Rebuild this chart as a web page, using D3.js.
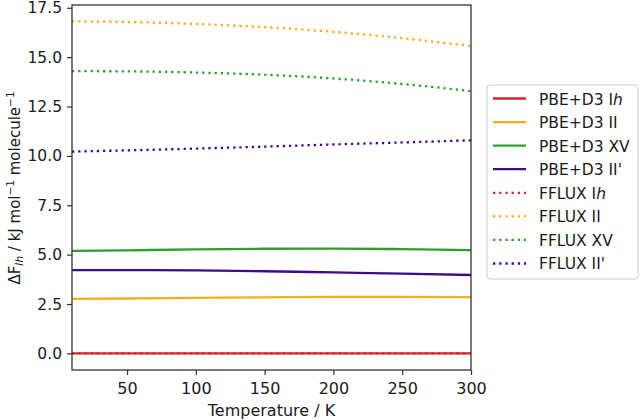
<!DOCTYPE html>
<html>
<head>
<meta charset="utf-8">
<script src="https://cdn.jsdelivr.net/npm/d3@7"></script>
<style>
  body { margin: 0; background: #fff; }
  svg { font-family: "DejaVu Sans", sans-serif; }
</style>
</head>
<body>
<svg width="640" height="420"></svg>
<script>
// temperatures (K)
const temps = [10, 50, 100, 150, 200, 250, 300];

// free energy differences relative to Ih, kJ/mol/molecule
const pbeIh = [0, 0, 0, 0, 0, 0, 0];
const pbeII = [2.76, 2.78, 2.81, 2.84, 2.86, 2.86, 2.85];
const pbeXV = [5.19, 5.22, 5.27, 5.30, 5.31, 5.28, 5.23];
const pbeIIp = [4.22, 4.22, 4.20, 4.16, 4.10, 4.04, 3.97];
const ffluxIh = [0, 0, 0, 0, 0, 0, 0];
const ffluxII = [16.81, 16.78, 16.68, 16.52, 16.28, 15.96, 15.56];
const ffluxXV = [14.29, 14.28, 14.22, 14.11, 13.92, 13.64, 13.28];
const ffluxIIp = [10.22, 10.28, 10.37, 10.47, 10.58, 10.68, 10.79];

const xTicks = [50, 100, 150, 200, 250, 300];
const yTicks = [0, 2.5, 5, 7.5, 10, 12.5, 15, 17.5];

const red = "#d62728", gold = "#f2b01e", green = "#2ca02c", purple = "#3f0a8c";

const series = [
  { name: "PBE+D3 I", it: "h", vals: pbeIh, color: red, dotted: false },
  { name: "PBE+D3 II", it: "", vals: pbeII, color: gold, dotted: false },
  { name: "PBE+D3 XV", it: "", vals: pbeXV, color: green, dotted: false },
  { name: "PBE+D3 II'", it: "", vals: pbeIIp, color: purple, dotted: false },
  { name: "FFLUX I", it: "h", vals: ffluxIh, color: red, dotted: true },
  { name: "FFLUX II", it: "", vals: ffluxII, color: gold, dotted: true },
  { name: "FFLUX XV", it: "", vals: ffluxXV, color: green, dotted: true },
  { name: "FFLUX II'", it: "", vals: ffluxIIp, color: purple, dotted: true }
];

const svg = d3.select("svg");
const mL = 72, mR = 471, mT = 5, mB = 370;
const fs = 16, ink = "#1a1a1a";

const x = d3.scaleLinear().domain([10, 300]).range([mL, mR]);
const y = d3.scaleLinear().domain([-0.84, 17.64]).range([mB, mT]);

const line = d3.line()
  .x((d, i) => x(temps[i]))
  .y(d => y(d))
  .curve(d3.curveMonotoneX);

svg.append("defs").append("clipPath").attr("id", "clip")
  .append("rect").attr("x", mL).attr("y", mT)
  .attr("width", mR - mL).attr("height", mB - mT);

svg.append("g").attr("clip-path", "url(#clip)")
  .selectAll("path")
  .data(series)
  .join("path")
  .attr("d", d => line(d.vals))
  .attr("fill", "none")
  .attr("stroke", d => d.color)
  .attr("stroke-width", 2.3)
  .attr("stroke-dasharray", d => d.dotted ? "2.3,3.9" : null);

// axes
const xAxis = svg.append("g")
  .attr("transform", `translate(0,${mB})`)
  .call(d3.axisBottom(x).tickValues(xTicks).tickSize(5).tickPadding(7.5).tickFormat(d3.format("d")));
const yAxis = svg.append("g")
  .attr("transform", `translate(${mL},0)`)
  .call(d3.axisLeft(y).tickValues(yTicks).tickSize(5).tickPadding(5).tickFormat(d3.format(".1f")));

[xAxis, yAxis].forEach(a => {
  a.select(".domain").remove();
  a.selectAll("line").attr("stroke", "#333").attr("stroke-width", 1.2);
  a.selectAll("text").attr("font-size", fs).attr("fill", ink)
    .attr("font-family", "DejaVu Sans");
});
yAxis.selectAll("text").attr("font-size", 15.5);

// frame
svg.append("rect")
  .attr("x", mL).attr("y", mT)
  .attr("width", mR - mL).attr("height", mB - mT)
  .attr("fill", "none").attr("stroke", "#333").attr("stroke-width", 1.3);

// axis labels
svg.append("text")
  .attr("x", (mL + mR) / 2).attr("y", 416)
  .attr("text-anchor", "middle").attr("font-size", fs).attr("fill", ink)
  .text("Temperature / K");

const yl = svg.append("text")
  .attr("transform", `translate(19.5,188) rotate(-90)`)
  .attr("text-anchor", "middle").attr("font-size", 15).attr("fill", ink);
yl.append("tspan").text("ΔF");
yl.append("tspan").attr("font-size", 10.5).attr("font-style", "italic").attr("dy", 3).text("Ih");
yl.append("tspan").attr("dy", -3).text(" / kJ mol");
yl.append("tspan").attr("font-size", 10.5).attr("dy", -6).text("−1");
yl.append("tspan").attr("dy", 6).text(" molecule");
yl.append("tspan").attr("font-size", 10.5).attr("dy", -6).text("−1");

// legend
const lg = svg.append("g");
lg.append("rect")
  .attr("x", 487).attr("y", 85).attr("width", 151).attr("height", 194)
  .attr("rx", 3).attr("fill", "#fff").attr("stroke", "#ccc").attr("stroke-width", 1);

const item = lg.selectAll("g.item").data(series).join("g")
  .attr("class", "item")
  .attr("transform", (d, i) => `translate(0,${98.5 + i * 23.57})`);
item.append("line")
  .attr("x1", 493).attr("x2", 526).attr("y1", 0).attr("y2", 0)
  .attr("stroke", d => d.color).attr("stroke-width", 2.3)
  .attr("stroke-dasharray", d => d.dotted ? "2.3,3.9" : null);
const t = item.append("text")
  .attr("x", 539).attr("y", 6)
  .attr("font-size", 15.5).attr("fill", ink);
t.append("tspan").text(d => d.name);
t.append("tspan").attr("font-style", "italic").text(d => d.it);
</script>
</body>
</html>
